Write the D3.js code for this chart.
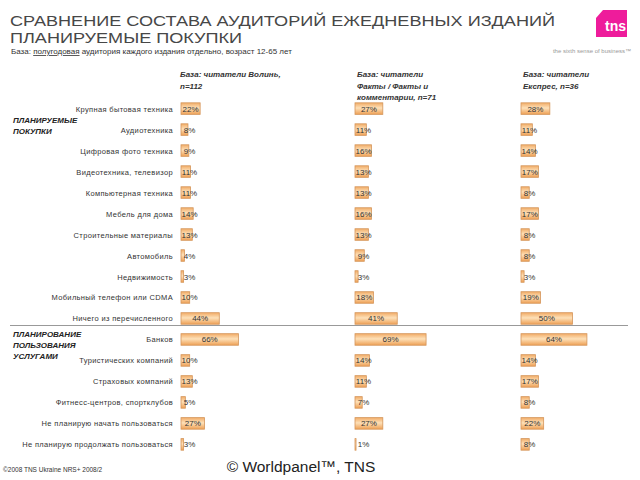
<!DOCTYPE html>
<html><head><meta charset="utf-8">
<script src="https://cdn.jsdelivr.net/npm/d3@7/dist/d3.min.js"></script>
<style>body{margin:0;background:#fff}svg{display:block;font-family:"Liberation Sans",Arial,sans-serif}</style>
</head><body>
<svg id="c" width="640" height="480"></svg>
<script>
const categories = ["Крупная бытовая техника","Аудиотехника","Цифровая фото техника","Видеотехника, телевизор","Компьютерная техника","Мебель для дома","Строительные материалы","Автомобиль","Недвижимость","Мобильный телефон или CDMA","Ничего из перечисленного","Банков","Туристических компаний","Страховых компаний","Фитнесс-центров, спортклубов","Не планирую начать пользоваться","Не планирую продолжать пользоваться"];
const volyn = [22,8,9,11,11,14,13,4,3,10,44,66,10,13,5,27,3];
const fakty = [27,11,16,13,13,16,13,9,3,18,41,69,14,11,7,27,1];
const express = [28,11,14,17,8,17,8,8,3,19,50,64,14,17,8,22,8];
const seriesHeaders = [["База: читатели Волинь,","n=112"],["База: читатели","Факты / Факты и","комментарии, n=71"],["База: читатели","Експрес, n=36"]];
const sectionLabels = [["ПЛАНИРУЕМЫЕ","ПОКУПКИ"],["ПЛАНИРОВАНИЕ","ПОЛЬЗОВАНИЯ","УСЛУГАМИ"]];

const svg = d3.select("#c");
const defs = svg.append("defs");
const g = defs.append("linearGradient").attr("id","bg").attr("x1",0).attr("y1",0).attr("x2",0).attr("y2",1);
g.append("stop").attr("offset","0%").attr("stop-color","#f2ad68");
g.append("stop").attr("offset","45%").attr("stop-color","#fde0b8");
g.append("stop").attr("offset","100%").attr("stop-color","#eea055");

// Title
svg.append("text").attr("x",10).attr("y",26).attr("font-size",15.5).attr("fill","#474747").attr("textLength",545).attr("lengthAdjust","spacingAndGlyphs").text("СРАВНЕНИЕ СОСТАВА АУДИТОРИЙ ЕЖЕДНЕВНЫХ ИЗДАНИЙ");
svg.append("text").attr("x",10).attr("y",43).attr("font-size",15.5).attr("fill","#474747").attr("textLength",232).attr("lengthAdjust","spacingAndGlyphs").text("ПЛАНИРУЕМЫЕ ПОКУПКИ");
const sub = svg.append("text").attr("x",11).attr("y",54).attr("font-size",8).attr("fill","#333");
sub.append("tspan").text("База: ");
sub.append("tspan").attr("text-decoration","underline").text("полугодовая");
sub.append("tspan").text(" аудитория каждого издания отдельно, возраст 12-65 лет");

// Logo
svg.append("path").attr("d","M603,10 L627,10 L627,37 L596,37 L596,18 Z").attr("fill","#ee1c9b");
svg.append("text").attr("x",626).attr("y",31).attr("text-anchor","end").attr("font-size",14).attr("font-weight","bold").attr("fill","#fff").text("tns");
svg.append("text").attr("x",631).attr("y",53).attr("text-anchor","end").attr("font-size",6).attr("fill","#999").text("the sixth sense of business™");

// Layout
const y = d3.scaleBand().domain(categories).range([98,455]).paddingInner(0.45).paddingOuter(0.23);
const cols = [
  {data:volyn, x0:181, scale:d3.scaleLinear().domain([0,100]).range([0,87])},
  {data:fakty, x0:355, scale:d3.scaleLinear().domain([0,100]).range([0,103])},
  {data:express, x0:521, scale:d3.scaleLinear().domain([0,100]).range([0,103])}
];
const headerX = [180,357,523];
seriesHeaders.forEach((lines,i)=>{
  lines.forEach((l,j)=>{
    svg.append("text").attr("x",headerX[i]).attr("y",77+j*11.5).attr("font-size",8).attr("font-style","italic").attr("font-weight","bold").attr("fill","#333").text(l);
  });
});

// category labels
svg.append("g").selectAll("text").data(categories).join("text")
  .attr("x",173).attr("y",d=>y(d)+y.bandwidth()/2+3).attr("text-anchor","end")
  .attr("font-size",7.5).attr("fill","#333").attr("letter-spacing",0.35).text(d=>d);

// section labels
sectionLabels[0].forEach((l,j)=>svg.append("text").attr("x",13).attr("y",123+j*11).attr("font-size",8).attr("font-style","italic").attr("font-weight","bold").attr("fill","#222").text(l));
sectionLabels[1].forEach((l,j)=>svg.append("text").attr("x",13).attr("y",337+j*11).attr("font-size",8).attr("font-style","italic").attr("font-weight","bold").attr("fill","#222").text(l));

// separator
svg.append("line").attr("x1",10).attr("x2",628).attr("y1",325.5).attr("y2",325.5).attr("stroke","#999").attr("stroke-width",1);

cols.forEach(c=>{
  const gg = svg.append("g");
  gg.selectAll("rect").data(categories).join("rect")
    .attr("x",c.x0).attr("y",d=>y(d)).attr("height",y.bandwidth())
    .attr("width",(d,i)=>Math.max(1,c.scale(c.data[i])))
    .attr("fill","url(#bg)").attr("stroke","#d4955a").attr("stroke-width",0.8);
  gg.selectAll("text").data(categories).join("text")
    .attr("x",(d,i)=>c.x0+Math.max(c.scale(c.data[i])/2,8.5))
    .attr("y",d=>y(d)+y.bandwidth()/2+3).attr("text-anchor","middle")
    .attr("font-size",8).attr("fill","#333").text((d,i)=>c.data[i]+"%");
});

// footer
svg.append("text").attr("x",3).attr("y",472).attr("font-size",6.5).attr("fill","#333").text("©2008 TNS Ukraine  NRS+ 2008/2");
svg.append("text").attr("x",301).attr("y",472).attr("text-anchor","middle").attr("font-size",15.5).attr("fill","#222").text("© Worldpanel™, TNS");
</script>
</body></html>
